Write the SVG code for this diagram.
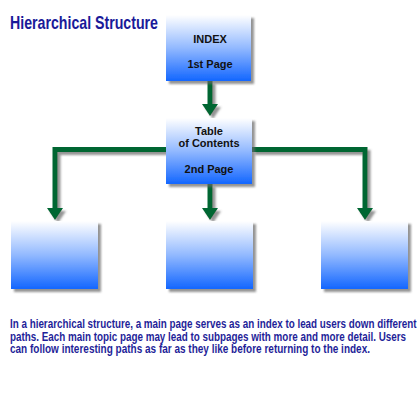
<svg xmlns="http://www.w3.org/2000/svg" width="420" height="420" viewBox="0 0 420 420">
  <style>
    .box { fill: url(#boxGrad); filter: url(#shadow); }
    .lbl { font-family: "Liberation Sans", Arial, sans-serif; font-weight: bold; font-size: 11px; fill: #111; text-anchor: middle; }
    .title { font-family: "Liberation Sans", Arial, sans-serif; font-weight: bold; font-size: 18px; fill: #1a1a99; }
    .para { font-family: "Liberation Sans", Arial, sans-serif; font-weight: bold; font-size: 12.5px; fill: #1f1f99; }
    .conn { fill: none; stroke: #006633; stroke-width: 5; stroke-linejoin: miter; marker-end: url(#arrow); }
  </style>
  <defs>
    <linearGradient id="boxGrad" x1="0" y1="0" x2="0" y2="1">
      <stop offset="0" stop-color="#ffffff"/>
      <stop offset="0.5" stop-color="#92b9ff"/>
      <stop offset="1" stop-color="#1366ff"/>
    </linearGradient>
    <filter id="shadow" x="-10%" y="-10%" width="130%" height="130%">
      <feDropShadow dx="3" dy="3" stdDeviation="1" flood-color="#666" flood-opacity="0.7"/>
    </filter>
    <marker id="arrow" markerUnits="userSpaceOnUse" markerWidth="12" markerHeight="16" viewBox="0 0 12 16" refX="0" refY="8" orient="auto">
      <polygon points="0,0 12,8 0,16" fill="#006633"/>
    </marker>
  </defs>

  <rect width="420" height="420" fill="#ffffff"/>

  <text class="title" transform="translate(10,29) scale(0.8,1)" x="0" y="0" textLength="185" lengthAdjust="spacingAndGlyphs">Hierarchical Structure</text>

  <g id="connectors" filter="url(#shadow)">
    <path class="conn" d="M210 81 V104"/>
    <path class="conn" d="M166 149.5 H55 V208"/>
    <path class="conn" d="M210 184 V208"/>
    <path class="conn" d="M252 149.5 H365 V208"/>
  </g>

  <g id="index">
    <rect class="box" x="166" y="15" width="85" height="66"/>
    <text class="lbl" x="210" y="43">INDEX</text>
    <text class="lbl" x="210" y="68">1st Page</text>
  </g>

  <g id="toc">
    <rect class="box" x="166" y="118" width="86" height="66"/>
    <text class="lbl" x="209" y="134.5">Table</text>
    <text class="lbl" x="209" y="147">of Contents</text>
    <text class="lbl" x="209" y="173">2nd Page</text>
  </g>

  <g id="sub1">
    <rect class="box" x="11" y="221" width="87" height="68"/>
  </g>
  <g id="sub2">
    <rect class="box" x="166" y="221" width="87" height="68"/>
  </g>
  <g id="sub3">
    <rect class="box" x="321" y="221" width="87" height="68"/>
  </g>

  <text class="para" transform="translate(10,328) scale(0.75,1)" x="0" y="0" textLength="542" lengthAdjust="spacingAndGlyphs">In a hierarchical structure, a main page serves as an index to lead users down different</text>
  <text class="para" transform="translate(10,340.5) scale(0.75,1)" x="0" y="0" textLength="528" lengthAdjust="spacingAndGlyphs">paths. Each main topic page may lead to subpages with more and more detail. Users</text>
  <text class="para" transform="translate(10,353) scale(0.75,1)" x="0" y="0" textLength="480" lengthAdjust="spacingAndGlyphs">can follow interesting paths as far as they like before returning to the index.</text>
</svg>
